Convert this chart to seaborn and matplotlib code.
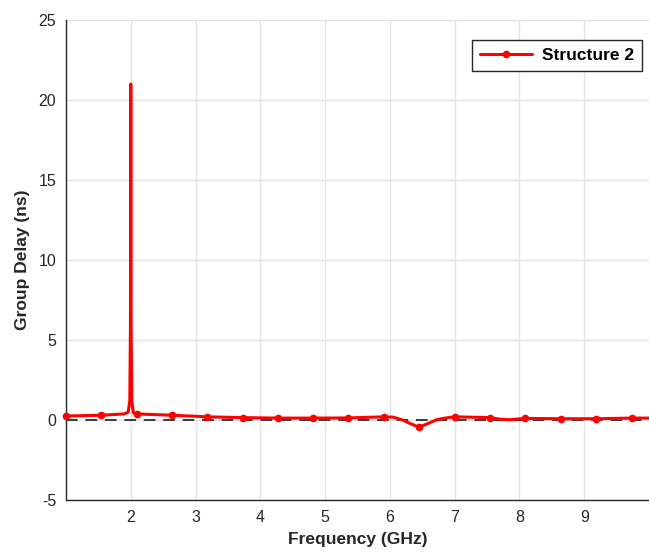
import numpy as np
import pandas as pd
import matplotlib
matplotlib.use("Agg")
import matplotlib.pyplot as plt
import seaborn as sns
from matplotlib import font_manager

# Group delay samples for Structure 2 (GHz, ns)
freq = [1.00, 1.545, 1.90, 1.96, 1.985, 1.995, 2.00, 2.005, 2.015, 2.04, 2.09,
        2.636, 3.18, 3.73, 4.27, 4.82, 5.36, 5.91, 6.05, 6.20, 6.30, 6.45,
        6.60, 6.72, 6.85, 7.00, 7.55, 7.70, 7.85, 8.09, 8.64, 9.18, 9.73, 10.0]
delay = [0.25, 0.30, 0.38, 0.50, 1.20, 6.0, 21.0, 6.0, 1.20, 0.45, 0.38,
         0.30, 0.20, 0.15, 0.12, 0.12, 0.13, 0.20, 0.18, 0.00, -0.20, -0.45,
         -0.20, 0.02, 0.12, 0.20, 0.15, 0.05, 0.02, 0.10, 0.08, 0.08, 0.12, 0.12]
marker_freqs = [1.00, 1.545, 2.09, 2.636, 3.18, 3.73, 4.27, 4.82, 5.36, 5.91,
                6.45, 7.00, 7.55, 8.09, 8.64, 9.18, 9.73]

x_ticks = [2, 3, 4, 5, 6, 7, 8, 9]
y_ticks = [-5, 0, 5, 10, 15, 20, 25]

df = pd.DataFrame({"Frequency (GHz)": freq, "Group Delay (ns)": delay})
mark_idx = [freq.index(f) for f in marker_freqs]

sns.set_theme(style="white")
plt.rcParams["font.family"] = ["Liberation Sans", "DejaVu Sans"]
plt.rcParams["axes.unicode_minus"] = False

installed = {f.name for f in font_manager.fontManager.ttflist}
legend_family = ["Liberation Sans Narrow"] if "Liberation Sans Narrow" in installed else ["Liberation Sans"]

fig = plt.figure(figsize=(6.49, 5.53), dpi=100)
ax = fig.add_axes([0.1017, 0.0958, 0.8983, 0.868])

ax.axhline(0, color="#3a3a3a", lw=1.4, ls=(0, (6, 4)), zorder=2)

sns.lineplot(data=df, x="Frequency (GHz)", y="Group Delay (ns)", ax=ax,
             color="#ff0000", lw=2.2, sort=False, marker="o", markersize=5.5,
             markeredgewidth=0, markevery=mark_idx, label="Structure 2",
             clip_on=False, zorder=3)

ax.set_xlim(1, 10)
ax.set_ylim(-5, 25)
ax.set_xticks(x_ticks)
ax.set_yticks(y_ticks)
ax.set_xticklabels([str(t) for t in x_ticks])
ax.set_yticklabels([str(t) for t in y_ticks])

ax.grid(True, color="#e3e3e3", lw=1.0)
ax.set_axisbelow(True)
for side in ["top", "right"]:
    ax.spines[side].set_visible(False)
for side in ["left", "bottom"]:
    ax.spines[side].set_color("#262626")
    ax.spines[side].set_linewidth(1.0)

ax.tick_params(axis="both", direction="in", length=5, width=1,
               color="#262626", labelsize=11.5, labelcolor="#262626", pad=7)

ax.set_xlabel("Frequency (GHz)", fontsize=12.5, fontweight="bold",
              color="#262626", labelpad=5)
ax.set_ylabel("Group Delay (ns)", fontsize=12.5, fontweight="bold",
              color="#262626", labelpad=6)

leg = ax.legend(loc="upper right", bbox_to_anchor=(0.988, 0.958),
                borderaxespad=0, frameon=True, fancybox=False,
                edgecolor="#262626", framealpha=1, borderpad=0.45,
                handlelength=3.0, handletextpad=0.6,
                prop={"family": legend_family, "weight": "bold", "size": 12.5})
leg.get_frame().set_linewidth(1.0)
for t in leg.get_texts():
    t.set_color("black")

fig.savefig("out.png", dpi=100)
